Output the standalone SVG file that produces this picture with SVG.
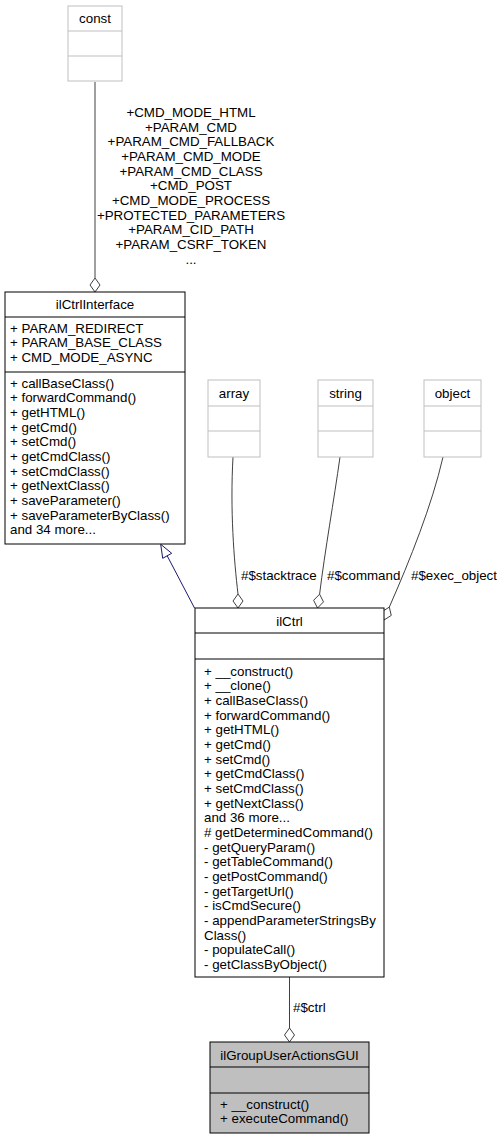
<svg xmlns="http://www.w3.org/2000/svg" width="502" height="1139" viewBox="0 0 502 1139">
<style>
text{font-family:"Liberation Sans",Arial,Helvetica,sans-serif;font-size:13.33px;fill:#000}
.c{text-anchor:middle}
.box{fill:#fff;stroke:#000;stroke-width:1}
.ext{fill:#fff;stroke:#bfbfbf;stroke-width:1}
.cur{fill:#bfbfbf;stroke:#000;stroke-width:1}
.dk{stroke:#000;stroke-width:1}
.lt{stroke:#bfbfbf;stroke-width:1}
.edge{fill:none;stroke:#404040;stroke-width:1}
.dia{fill:#fff;stroke:#404040;stroke-width:1}
.inh{fill:none;stroke:#191970;stroke-width:1}
.tri{fill:#fff;stroke:#191970;stroke-width:1}
</style>
<g id="edges">
<path class="edge" d="M95,82 L95,278"/>
<polygon class="dia" points="95,292 90,285 95,278 100,285"/>
<path class="inh" d="M194.5,608 L167.2,555.8"/>
<polygon class="tri" points="160.7,544.3 162.7,558.3 171.7,553.3"/>
<path class="edge" d="M233,457 C230,510 234,560 238,594"/>
<polygon class="dia" points="238,608 233,601 238,594 243,601"/>
<path class="edge" d="M340,457 C334,500 325,550 319.6,594.2"/>
<polygon class="dia" points="317.5,608 313.6,600.3 319.6,594.2 323.5,601.9"/>
<path class="edge" d="M443,457 C432,505 410,560 389.3,607.1"/>
<polygon class="dia" points="384,620 382.05,611.65 389.3,607.1 391.25,615.45"/>
<path class="edge" d="M289.5,977 L289.5,1028"/>
<polygon class="dia" points="289.5,1042 284.5,1035 289.5,1028 294.5,1035"/>
<g id="edge-labels">
<text class="c" x="191" y="117">+CMD_MODE_HTML</text>
<text class="c" x="191" y="131.7">+PARAM_CMD</text>
<text class="c" x="191" y="146.3">+PARAM_CMD_FALLBACK</text>
<text class="c" x="191" y="161">+PARAM_CMD_MODE</text>
<text class="c" x="191" y="175.7">+PARAM_CMD_CLASS</text>
<text class="c" x="191" y="190.3">+CMD_POST</text>
<text class="c" x="191" y="205">+CMD_MODE_PROCESS</text>
<text class="c" x="191" y="219.7">+PROTECTED_PARAMETERS</text>
<text class="c" x="191" y="234.3">+PARAM_CID_PATH</text>
<text class="c" x="191" y="249">+PARAM_CSRF_TOKEN</text>
<text class="c" x="191" y="263.7">...</text>
<text x="241" y="580">#$stacktrace</text>
<text x="327" y="580">#$command</text>
<text x="411" y="580">#$exec_object</text>
<text x="293" y="1012">#$ctrl</text>
</g>
</g>
<g id="const">
<rect class="ext" x="68" y="6" width="54" height="75"/>
<line class="lt" x1="68" y1="31" x2="122" y2="31"/>
<line class="lt" x1="68" y1="56" x2="122" y2="56"/>
<text class="c" x="95" y="23">const</text>
</g>
<g id="array">
<rect class="ext" x="208" y="380" width="52" height="77"/>
<line class="lt" x1="208" y1="406" x2="260" y2="406"/>
<line class="lt" x1="208" y1="431" x2="260" y2="431"/>
<text class="c" x="234" y="398">array</text>
</g>
<g id="string">
<rect class="ext" x="318" y="380" width="55" height="77"/>
<line class="lt" x1="318" y1="406" x2="373" y2="406"/>
<line class="lt" x1="318" y1="431" x2="373" y2="431"/>
<text class="c" x="345.5" y="398">string</text>
</g>
<g id="object">
<rect class="ext" x="424" y="380" width="57" height="77"/>
<line class="lt" x1="424" y1="406" x2="481" y2="406"/>
<line class="lt" x1="424" y1="431" x2="481" y2="431"/>
<text class="c" x="452.5" y="398">object</text>
</g>
<g id="ilCtrlInterface">
<rect class="box" x="5" y="292" width="180" height="252"/>
<line class="dk" x1="5" y1="317" x2="185" y2="317"/>
<line class="dk" x1="5" y1="372" x2="185" y2="372"/>
<text class="c" x="95" y="309">ilCtrlInterface</text>
<text x="10" y="332.5">+ PARAM_REDIRECT</text>
<text x="10" y="347.2">+ PARAM_BASE_CLASS</text>
<text x="10" y="361.8">+ CMD_MODE_ASYNC</text>
<text x="10" y="387.5">+ callBaseClass()</text>
<text x="10" y="402.2">+ forwardCommand()</text>
<text x="10" y="416.8">+ getHTML()</text>
<text x="10" y="431.5">+ getCmd()</text>
<text x="10" y="446.2">+ setCmd()</text>
<text x="10" y="460.8">+ getCmdClass()</text>
<text x="10" y="475.5">+ setCmdClass()</text>
<text x="10" y="490.2">+ getNextClass()</text>
<text x="10" y="504.8">+ saveParameter()</text>
<text x="10" y="519.5">+ saveParameterByClass()</text>
<text x="10" y="534.2">and 34 more...</text>
</g>
<g id="ilCtrl">
<rect class="box" x="195" y="608" width="189" height="369"/>
<line class="dk" x1="195" y1="633" x2="384" y2="633"/>
<line class="dk" x1="195" y1="659" x2="384" y2="659"/>
<text class="c" x="289.5" y="626">ilCtrl</text>
<text x="204" y="675.5">+ __construct()</text>
<text x="204" y="690.2">+ __clone()</text>
<text x="204" y="704.8">+ callBaseClass()</text>
<text x="204" y="719.5">+ forwardCommand()</text>
<text x="204" y="734.2">+ getHTML()</text>
<text x="204" y="748.8">+ getCmd()</text>
<text x="204" y="763.5">+ setCmd()</text>
<text x="204" y="778.2">+ getCmdClass()</text>
<text x="204" y="792.8">+ setCmdClass()</text>
<text x="204" y="807.5">+ getNextClass()</text>
<text x="204" y="822.2">and 36 more...</text>
<text x="204" y="836.8"># getDeterminedCommand()</text>
<text x="204" y="851.5">- getQueryParam()</text>
<text x="204" y="866.2">- getTableCommand()</text>
<text x="204" y="880.8">- getPostCommand()</text>
<text x="204" y="895.5">- getTargetUrl()</text>
<text x="204" y="910.2">- isCmdSecure()</text>
<text x="204" y="924.8">- appendParameterStringsBy</text>
<text x="204" y="939.5">Class()</text>
<text x="204" y="954.2">- populateCall()</text>
<text x="204" y="968.8">- getClassByObject()</text>
</g>
<g id="ilGroupUserActionsGUI">
<rect class="cur" x="210" y="1042" width="159" height="91"/>
<line class="dk" x1="210" y1="1067" x2="369" y2="1067"/>
<line class="dk" x1="210" y1="1093" x2="369" y2="1093"/>
<text class="c" x="289.5" y="1060">ilGroupUserActionsGUI</text>
<text x="220" y="1108.5">+ __construct()</text>
<text x="220" y="1123.2">+ executeCommand()</text>
</g>
</svg>
